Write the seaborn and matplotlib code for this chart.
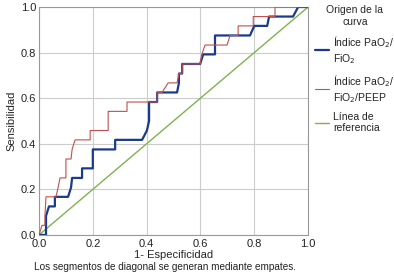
import numpy as np
import pandas as pd
import matplotlib
matplotlib.use("Agg")
import matplotlib.pyplot as plt
import seaborn as sns

fpr_pafi = [0.0, 0.026, 0.026, 0.037, 0.059, 0.059, 0.108, 0.119, 0.123, 0.16, 0.16,
            0.2, 0.2, 0.283, 0.283, 0.383, 0.401, 0.409, 0.409, 0.439, 0.439, 0.513,
            0.52, 0.52, 0.532, 0.532, 0.599, 0.61, 0.654, 0.654, 0.784, 0.8, 0.848,
            0.855, 0.944, 0.963, 1.0]
tpr_pafi = [0.0, 0.0, 0.083, 0.125, 0.125, 0.167, 0.167, 0.208, 0.25, 0.25, 0.292,
            0.292, 0.375, 0.375, 0.417, 0.417, 0.458, 0.5, 0.583, 0.583, 0.625, 0.625,
            0.667, 0.708, 0.708, 0.75, 0.75, 0.792, 0.792, 0.875, 0.875, 0.917, 0.917,
            0.958, 0.958, 1.0, 1.0]

fpr_peep = [0.0, 0.011, 0.022, 0.022, 0.026, 0.063, 0.071, 0.078, 0.1, 0.1, 0.119,
            0.123, 0.134, 0.19, 0.19, 0.257, 0.257, 0.327, 0.327, 0.439, 0.439, 0.457,
            0.48, 0.513, 0.52, 0.532, 0.532, 0.599, 0.605, 0.617, 0.699, 0.71, 0.74,
            0.74, 0.796, 0.796, 0.877, 0.877, 1.0]
tpr_peep = [0.0, 0.042, 0.042, 0.083, 0.167, 0.167, 0.208, 0.25, 0.25, 0.333, 0.333,
            0.375, 0.417, 0.417, 0.458, 0.458, 0.542, 0.542, 0.583, 0.583, 0.625, 0.625,
            0.667, 0.667, 0.708, 0.708, 0.75, 0.75, 0.792, 0.833, 0.833, 0.875, 0.875,
            0.917, 0.917, 0.958, 0.958, 1.0, 1.0]

ref = [0.0, 1.0]

etiquetas = ["Índice PaO$_2$/\nFiO$_2$", "Índice PaO$_2$/\nFiO$_2$/PEEP", "Línea de\nreferencia"]
colores = ["#1b3a8c", "#c0504d", "#7fb24f"]
grosores = [1.6, 0.8, 1.0]

sns.set_style("whitegrid")
plt.rcParams['font.family'] = ['Liberation Sans', 'DejaVu Sans']

fig = plt.figure(figsize=(3.94, 2.79), dpi=100)
ax = fig.add_axes([0.099, 0.158, 0.683, 0.817])

df_pafi = pd.DataFrame({"x": fpr_pafi, "y": tpr_pafi})
df_peep = pd.DataFrame({"x": fpr_peep, "y": tpr_peep})
df_ref = pd.DataFrame({"x": ref, "y": ref})

sns.lineplot(data=df_ref, x="x", y="y", sort=False, estimator=None, ax=ax,
             color=colores[2], linewidth=grosores[2], label=etiquetas[2], zorder=2)
sns.lineplot(data=df_pafi, x="x", y="y", sort=False, estimator=None, ax=ax,
             color=colores[0], linewidth=grosores[0], label=etiquetas[0], zorder=3)
sns.lineplot(data=df_peep, x="x", y="y", sort=False, estimator=None, ax=ax,
             color=colores[1], linewidth=grosores[1], label=etiquetas[1], zorder=4)

ax.set_xlim(0, 1)
ax.set_ylim(0, 1)
ax.set_xticks(np.arange(0, 1.01, 0.2))
ax.set_yticks(np.arange(0, 1.01, 0.2))
ax.set_xticklabels([f"{v:.1f}" for v in np.arange(0, 1.01, 0.2)])
ax.set_yticklabels([f"{v:.1f}" for v in np.arange(0, 1.01, 0.2)])
ax.tick_params(axis="x", length=0, pad=3, labelsize=8, colors="#222222")
ax.tick_params(axis="y", length=0, pad=2, labelsize=8, colors="#222222")
ax.grid(color="#cccccc", linewidth=0.8)
for s in ax.spines.values():
    s.set_color("#999999")
    s.set_linewidth(0.8)

ax.set_xlabel("1- Especificidad", fontsize=8, labelpad=1)
ax.set_ylabel("Sensibilidad", fontsize=8, labelpad=3)

# leyenda en el orden original
h, l = ax.get_legend_handles_labels()
orden = [1, 2, 0]
leg = ax.legend([h[i] for i in orden], [l[i] for i in orden],
                title="Origen de la\ncurva", loc="upper left",
                bbox_to_anchor=(1.0, 1.04), frameon=False, fontsize=7.5,
                title_fontsize=7.5, handlelength=1.3, handletextpad=0.4,
                labelspacing=0.7, borderaxespad=0.3)
leg.get_title().set_multialignment("center")
for t in leg.get_texts():
    t.set_color("#222222")

fig.text(0.42, 0.025, "Los segmentos de diagonal se generan mediante empates.",
         ha="center", va="bottom", fontsize=7.2, color="#222222")

fig.savefig("out.png", dpi=100)
